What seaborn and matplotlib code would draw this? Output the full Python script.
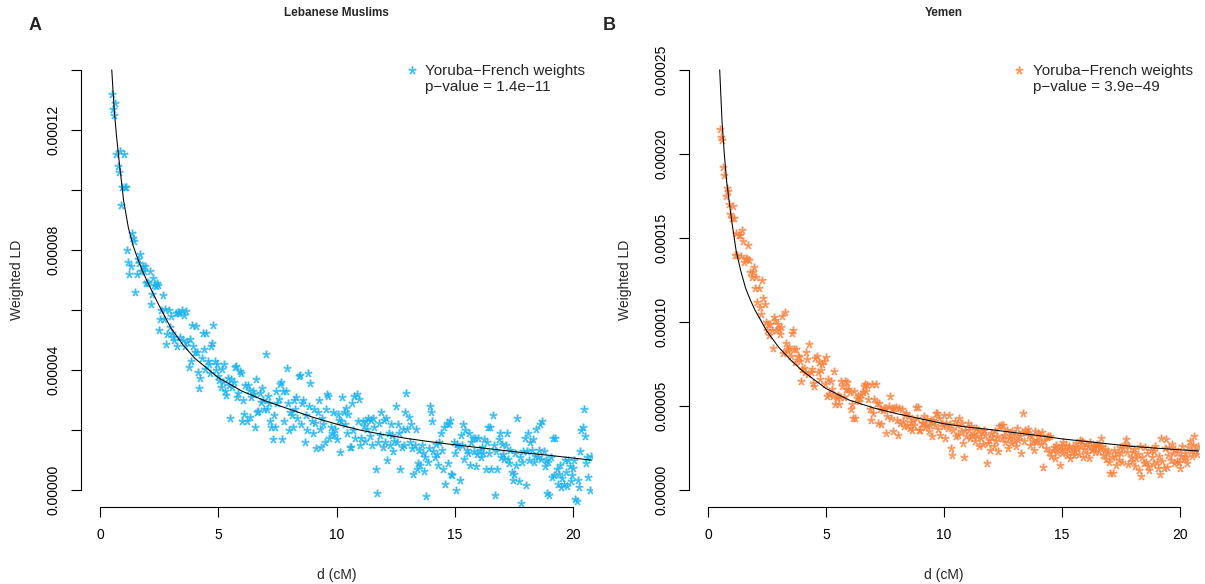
import numpy as np
import pandas as pd
import seaborn as sns
import matplotlib
matplotlib.use("Agg")
import matplotlib.pyplot as plt
from matplotlib.lines import Line2D

# genetic distance bins (cM), same for both panels
d_cm = [
    0.50, 0.55, 0.60, 0.65, 0.70, 0.75, 0.80, 0.85, 0.90, 0.95, 1.00, 1.05, 1.10, 1.15, 1.20, 1.25, 1.30, 1.35, 1.40, 1.45,
    1.50, 1.55, 1.60, 1.65, 1.70, 1.75, 1.80, 1.85, 1.90, 1.95, 2.00, 2.05, 2.10, 2.15, 2.20, 2.25, 2.30, 2.35, 2.40, 2.45,
    2.50, 2.55, 2.60, 2.65, 2.70, 2.75, 2.80, 2.85, 2.90, 2.95, 3.00, 3.05, 3.10, 3.15, 3.20, 3.25, 3.30, 3.35, 3.40, 3.45,
    3.50, 3.55, 3.60, 3.65, 3.70, 3.75, 3.80, 3.85, 3.90, 3.95, 4.00, 4.05, 4.10, 4.15, 4.20, 4.25, 4.30, 4.35, 4.40, 4.45,
    4.50, 4.55, 4.60, 4.65, 4.70, 4.75, 4.80, 4.85, 4.90, 4.95, 5.00, 5.05, 5.10, 5.15, 5.20, 5.25, 5.30, 5.35, 5.40, 5.45,
    5.50, 5.55, 5.60, 5.65, 5.70, 5.75, 5.80, 5.85, 5.90, 5.95, 6.00, 6.05, 6.10, 6.15, 6.20, 6.25, 6.30, 6.35, 6.40, 6.45,
    6.50, 6.55, 6.60, 6.65, 6.70, 6.75, 6.80, 6.85, 6.90, 6.95, 7.00, 7.05, 7.10, 7.15, 7.20, 7.25, 7.30, 7.35, 7.40, 7.45,
    7.50, 7.55, 7.60, 7.65, 7.70, 7.75, 7.80, 7.85, 7.90, 7.95, 8.00, 8.05, 8.10, 8.15, 8.20, 8.25, 8.30, 8.35, 8.40, 8.45,
    8.50, 8.55, 8.60, 8.65, 8.70, 8.75, 8.80, 8.85, 8.90, 8.95, 9.00, 9.05, 9.10, 9.15, 9.20, 9.25, 9.30, 9.35, 9.40, 9.45,
    9.50, 9.55, 9.60, 9.65, 9.70, 9.75, 9.80, 9.85, 9.90, 9.95, 10.00, 10.05, 10.10, 10.15, 10.20, 10.25, 10.30, 10.35, 10.40, 10.45,
    10.50, 10.55, 10.60, 10.65, 10.70, 10.75, 10.80, 10.85, 10.90, 10.95, 11.00, 11.05, 11.10, 11.15, 11.20, 11.25, 11.30, 11.35, 11.40, 11.45,
    11.50, 11.55, 11.60, 11.65, 11.70, 11.75, 11.80, 11.85, 11.90, 11.95, 12.00, 12.05, 12.10, 12.15, 12.20, 12.25, 12.30, 12.35, 12.40, 12.45,
    12.50, 12.55, 12.60, 12.65, 12.70, 12.75, 12.80, 12.85, 12.90, 12.95, 13.00, 13.05, 13.10, 13.15, 13.20, 13.25, 13.30, 13.35, 13.40, 13.45,
    13.50, 13.55, 13.60, 13.65, 13.70, 13.75, 13.80, 13.85, 13.90, 13.95, 14.00, 14.05, 14.10, 14.15, 14.20, 14.25, 14.30, 14.35, 14.40, 14.45,
    14.50, 14.55, 14.60, 14.65, 14.70, 14.75, 14.80, 14.85, 14.90, 14.95, 15.00, 15.05, 15.10, 15.15, 15.20, 15.25, 15.30, 15.35, 15.40, 15.45,
    15.50, 15.55, 15.60, 15.65, 15.70, 15.75, 15.80, 15.85, 15.90, 15.95, 16.00, 16.05, 16.10, 16.15, 16.20, 16.25, 16.30, 16.35, 16.40, 16.45,
    16.50, 16.55, 16.60, 16.65, 16.70, 16.75, 16.80, 16.85, 16.90, 16.95, 17.00, 17.05, 17.10, 17.15, 17.20, 17.25, 17.30, 17.35, 17.40, 17.45,
    17.50, 17.55, 17.60, 17.65, 17.70, 17.75, 17.80, 17.85, 17.90, 17.95, 18.00, 18.05, 18.10, 18.15, 18.20, 18.25, 18.30, 18.35, 18.40, 18.45,
    18.50, 18.55, 18.60, 18.65, 18.70, 18.75, 18.80, 18.85, 18.90, 18.95, 19.00, 19.05, 19.10, 19.15, 19.20, 19.25, 19.30, 19.35, 19.40, 19.45,
    19.50, 19.55, 19.60, 19.65, 19.70, 19.75, 19.80, 19.85, 19.90, 19.95, 20.00, 20.05, 20.10, 20.15, 20.20, 20.25, 20.30, 20.35, 20.40, 20.45,
    20.50, 20.55, 20.60, 20.65, 20.70, 20.75,
]

# weighted LD, units of 1e-5
ld_lebanese = [
    13.2, 12.7, 12.5, 12.9, 11.2, 10.8, 10.6, 11.3, 9.5, 10.1, 11.2, 10.1, 10.1, 8.0, 7.6, 7.2, 7.45, 8.55, 8.4, 8.3,
    6.6, 7.2, 7.7, 7.55, 7.85, 7.3, 7.45, 7.3, 7.45, 6.9, 6.95, 6.9, 7.3, 6.2, 6.55, 7.05, 6.85, 6.8, 6.9, 6.85,
    5.35, 5.7, 6.0, 6.5, 5.7, 6.05, 4.86, 5.2, 6.0, 5.45, 5.8, 5.25, 5.1, 5.0, 5.9, 4.8, 5.95, 5.9, 5.1, 6.0,
    5.0, 5.84, 4.8, 5.98, 4.95, 4.1, 5.05, 4.3, 5.5, 4.8, 4.6, 5.48, 4.6, 3.95, 3.4, 3.75, 4.4, 5.24, 4.7, 4.05,
    5.24, 4.3, 4.2, 3.9, 4.8, 4.9, 5.5, 4.3, 4.0, 4.2, 3.8, 3.67, 3.45, 4.05, 3.6, 4.2, 3.3, 3.17, 3.75, 3.5,
    2.39, 3.7, 3.45, 3.6, 4.1, 4.13, 3.1, 3.25, 3.97, 3.9, 2.3, 3.0, 2.55, 3.5, 2.3, 3.5, 3.35, 2.45, 3.1, 3.3,
    3.2, 2.1, 3.7, 2.6, 2.65, 3.25, 2.95, 3.4, 3.0, 2.7, 4.52, 2.7, 3.15, 2.9, 2.3, 2.1, 1.7, 2.5, 2.1, 3.3,
    2.9, 3.05, 3.55, 3.6, 1.7, 3.3, 2.3, 3.3, 4.08, 2.9, 2.0, 2.6, 2.5, 2.1, 3.0, 2.7, 3.1, 2.4, 3.8, 3.83,
    2.2, 2.9, 3.0, 1.6, 2.5, 2.0, 3.89, 2.8, 3.58, 2.3, 1.9, 2.7, 2.25, 1.4, 2.6, 3.0, 2.05, 1.45, 2.4, 2.2,
    1.6, 2.7, 3.2, 3.15, 1.75, 2.1, 1.9, 2.6, 1.85, 2.05, 1.7, 2.55, 2.35, 1.27, 2.3, 3.1, 2.6, 2.2, 2.75, 1.9,
    2.55, 1.45, 1.45, 2.9, 2.0, 3.15, 1.75, 3.2, 2.3, 3.05, 1.5, 1.75, 2.3, 2.15, 1.65, 2.3, 2.05, 2.4, 1.8, 2.35,
    1.5, 2.4, 2.1, 0.72, -0.08, 1.6, 2.25, 1.85, 2.6, 1.45, 2.35, 1.6, 2.4, 1.0, 1.9, 1.5, 2.2, 1.85, 1.3, 1.65,
    2.8, 1.6, 2.2, 1.9, 0.7, 1.45, 2.05, 1.5, 2.6, 3.22, 2.05, 2.45, 1.6, 2.2, 1.4, 0.55, 1.5, 2.05, 0.7, 0.9,
    1.35, 0.85, 1.5, 1.25, 0.65, 1.1, -0.19, 0.95, 1.4, 2.8, 2.59, 2.3, 1.3, 1.1, 1.55, 1.2, 0.85, 1.6, 1.9, 1.35,
    0.7, 2.1, 0.2, 2.25, 0.9, 2.2, 2.35, 0.55, 0.5, 1.6, 1.25, 0.0, 1.55, 1.45, 0.35, 1.85, 1.5, 2.2, 1.05, 2.0,
    1.35, 1.25, 1.9, 0.85, 1.6, 1.75, 1.3, 1.75, 0.8, 1.2, 1.75, 1.35, 1.1, 1.45, 1.25, 1.7, 0.7, 1.6, 2.1, 1.25,
    2.1, 0.7, 2.52, 1.5, -0.15, 1.3, 0.7, 1.7, 1.9, 1.1, 1.55, 1.2, 1.05, 1.5, 1.9, 1.05, 0.9, 1.35, 0.6, 0.35,
    0.55, 1.25, 0.85, 2.4, 0.3, 1.1, -0.42, 0.95, 1.3, 1.75, 0.17, 1.3, 1.9, 1.0, 1.6, 1.35, 1.7, 0.95, 1.15, 2.05,
    1.1, 1.35, 2.2, 1.05, 2.3, 1.3, 0.8, 1.0, -0.1, 0.95, -0.15, 1.1, 0.45, 1.75, 0.5, 1.75, 0.7, 0.2, 0.55, 0.85,
    0.1, 0.4, 0.2, 1.0, 0.6, 0.15, 1.0, 0.8, 0.3, 0.5, 0.75, 1.0, -0.3, -0.35, 0.35, 0.1, 1.3, 2.0, 2.1, 2.69,
    1.8, 0.9, 1.1, 0.45, 0.0, 1.15,
]

ld_yemen = [
    21.5, 21.0, 20.8, 19.2, 18.75, 17.5, 18.0, 17.8, 17.0, 16.4, 16.2, 16.9, 16.2, 14.0, 15.3, 14.0, 15.2, 15.2, 13.9, 15.5,
    14.8, 13.6, 13.8, 13.75, 14.6, 13.7, 13.0, 12.7, 13.0, 13.3, 12.0, 12.7, 11.2, 12.0, 10.9, 10.5, 12.5, 11.4, 11.07, 10.0,
    9.5, 9.9, 9.2, 9.9, 9.5, 8.43, 10.3, 10.1, 9.5, 9.9, 9.6, 9.3, 9.7, 10.36, 8.15, 10.6, 8.73, 8.4, 8.3, 8.5,
    8.0, 9.33, 9.5, 8.4, 7.6, 8.4, 8.0, 7.9, 7.7, 6.5, 7.2, 7.25, 7.0, 8.2, 7.8, 6.9, 8.67, 7.0, 7.2, 6.4,
    6.2, 7.85, 8.0, 7.0, 7.6, 6.6, 7.15, 7.5, 7.7, 6.3, 7.9, 5.6, 6.6, 5.7, 6.5, 6.0, 5.6, 7.1, 5.1, 5.5,
    5.65, 5.1, 5.55, 6.5, 6.2, 5.55, 6.5, 6.0, 6.45, 6.0, 5.85, 4.8, 5.1, 4.3, 5.9, 4.27, 5.5, 5.6, 5.3, 5.5,
    5.75, 5.85, 6.2, 6.3, 5.9, 6.25, 5.45, 4.8, 4.2, 6.3, 4.6, 5.45, 6.3, 5.2, 4.0, 5.2, 4.8, 3.95, 4.75, 4.9,
    4.9, 3.41, 4.4, 5.0, 5.6, 4.3, 4.8, 3.5, 4.9, 4.95, 4.2, 3.27, 4.9, 4.0, 4.8, 4.1, 3.8, 4.45, 4.6, 3.9,
    4.4, 3.7, 4.05, 3.6, 4.2, 3.85, 4.96, 4.3, 4.97, 3.55, 3.6, 4.0, 4.0, 4.4, 3.75, 3.9, 4.25, 3.5, 3.9, 4.15,
    3.2, 4.2, 3.85, 4.6, 4.62, 3.65, 4.3, 3.3, 4.0, 3.8, 4.45, 3.1, 4.0, 3.7, 4.5, 3.95, 2.5, 2.08, 3.6, 4.1,
    3.2, 3.85, 3.3, 4.3, 3.5, 4.0, 2.8, 1.95, 3.6, 3.25, 4.0, 3.55, 3.1, 3.8, 3.3, 3.35, 2.9, 3.7, 3.2, 3.55,
    2.6, 3.1, 3.45, 2.75, 3.6, 3.3, 1.63, 2.8, 3.0, 2.4, 3.4, 3.15, 2.6, 3.5, 2.9, 3.2, 2.35, 3.8, 3.9, 3.1,
    3.85, 3.3, 2.85, 3.6, 2.5, 3.1, 3.25, 2.8, 3.5, 2.95, 3.3, 2.6, 3.7, 3.0, 3.2, 2.2, 3.45, 4.62, 2.9, 3.6,
    3.45, 3.65, 3.3, 2.7, 3.2, 2.95, 2.4, 3.5, 2.85, 3.0, 3.4, 3.2, 2.75, 3.45, 1.35, 2.9, 2.5, 3.15, 3.25, 2.3,
    3.2, 2.05, 2.4, 2.55, 1.9, 2.7, 2.3, 2.5, 1.5, 2.6, 2.2, 2.85, 2.4, 2.7, 2.1, 2.45, 2.65, 1.9, 2.3, 2.55,
    2.1, 2.35, 2.8, 2.5, 2.15, 3.0, 2.6, 2.95, 1.95, 2.45, 2.75, 2.2, 2.6, 1.9, 2.85, 2.4, 2.5, 2.65, 2.25, 2.7,
    2.75, 2.35, 2.55, 3.1, 2.6, 2.1, 2.45, 1.85, 2.2, 2.35, 1.65, 1.0, 1.95, 1.05, 2.4, 2.05, 1.5, 2.3, 1.8, 2.55,
    2.2, 1.7, 2.5, 2.75, 3.06, 2.25, 1.55, 2.6, 2.0, 1.75, 2.3, 2.45, 1.45, 1.9, 2.15, 1.2, 2.6, 0.85, 1.95, 1.6,
    2.55, 1.7, 2.2, 1.45, 1.2, 2.4, 1.95, 1.55, 2.35, 2.6, 1.65, 1.3, 2.05, 0.95, 3.1, 1.75, 1.3, 2.5, 3.05, 1.35,
    2.1, 2.55, 1.8, 2.75, 2.2, 1.6, 2.45, 1.75, 2.3, 1.7, 1.3, 2.05, 2.6, 1.85, 2.2, 1.95, 1.6, 2.55, 2.9, 2.35,
    2.05, 2.7, 3.2, 2.4, 2.15, 2.6,
]

# fitted decay curves, units of 1e-5
fit_d = [0.5, 0.6, 0.7, 0.8, 0.9, 1.0, 1.2, 1.4, 1.6, 1.8, 2.0, 2.5, 3.0, 3.5, 4.0, 5.0,
         6.0, 7.0, 8.0, 9.0, 10.0, 11.0, 12.0, 13.0, 14.0, 15.0, 16.0, 17.0, 18.0, 19.0, 20.0, 20.8]
fit_lebanese = [14.0, 12.7, 11.8, 11.05, 10.35, 9.65, 8.75, 8.15, 7.7, 7.3, 6.95, 6.15, 5.4, 4.85, 4.4, 3.75,
                3.3, 2.97, 2.7, 2.43, 2.2, 2.0, 1.85, 1.72, 1.61, 1.51, 1.42, 1.33, 1.24, 1.16, 1.07, 1.0]
fit_yemen = [25.0, 21.9, 19.9, 18.3, 17.2, 16.1, 14.2, 13.0, 12.0, 11.3, 10.7, 9.45, 8.5, 7.75, 7.1, 6.05,
             5.35, 4.9, 4.55, 4.25, 3.95, 3.75, 3.6, 3.42, 3.25, 3.05, 2.9, 2.75, 2.6, 2.5, 2.4, 2.33]

sns.set_style("white")
plt.rcParams["font.family"] = ["Liberation Sans", "DejaVu Sans"]
plt.rcParams["mathtext.fontset"] = "custom"
plt.rcParams["mathtext.rm"] = "Liberation Sans"
STAR = r"$\mathrm{*}$"

W, H = 1205, 584
fig = plt.figure(figsize=(W / 100, H / 100), dpi=100)


def draw_panel(left_px, right_px, ld, fit, color, ytop, ystep, label_every,
               title, letter, letter_x, ylabel_x, marker_x, pval):
    top_px, bottom_px = 53, 507
    ax = fig.add_axes([left_px / W, 1 - bottom_px / H,
                       (right_px - left_px) / W, (bottom_px - top_px) / H])
    pts = pd.DataFrame({"d": d_cm, "ld": np.array(ld) * 1e-5})
    curve = pd.DataFrame({"d": fit_d, "ld": np.array(fit) * 1e-5})

    sns.scatterplot(data=pts, x="d", y="ld", ax=ax, marker=STAR, color=color,
                    s=30, linewidth=0.3, edgecolor=color, alpha=0.85, legend=False)
    sns.lineplot(data=curve, x="d", y="ld", ax=ax, color="black", linewidth=0.75,
                 estimator=None, sort=False, legend=False)

    pad = 0.04 * ytop
    ax.set_xlim(-0.8, 20.8)
    ax.set_ylim(-pad, ytop + pad)

    ax.set_xticks([0, 5, 10, 15, 20])
    yt = np.arange(0, ytop + ystep / 2, ystep)
    ax.set_yticks(yt)
    ax.set_yticklabels([f"{v:.5f}" if i % label_every == 0 else ""
                        for i, v in enumerate(yt)])
    for lab in ax.get_yticklabels():
        lab.set_rotation(90)
        lab.set_va("center")

    ax.tick_params(bottom=True, left=True, direction="out", length=7, width=0.8,
                   color="black", labelsize=10, labelcolor="black")
    ax.tick_params(axis="y", pad=7.5)
    ax.tick_params(axis="x", pad=8)

    sns.despine(ax=ax)
    ax.spines["left"].set_bounds(0, ytop)
    ax.spines["bottom"].set_bounds(0, 20)
    for s in ("left", "bottom"):
        ax.spines[s].set_linewidth(0.8)
        ax.spines[s].set_color("black")

    ax.set_xlabel("d (cM)", fontsize=10, va="top")
    ax.set_ylabel("Weighted LD", fontsize=10)
    ax.xaxis.set_label_coords(0.5, (507 - 568) / 454)
    ax.yaxis.set_label_coords((ylabel_x - left_px) / (right_px - left_px), 0.5)

    ax.set_title(title, fontsize=8.5, fontweight="bold", y=(507 - 16) / 454, pad=0)
    fig.text(letter_x / W, 1 - 25.5 / H, letter, fontsize=13, fontweight="bold",
             ha="center", va="center")

    handles = [Line2D([], [], marker=STAR, color=color, linestyle="none",
                      markersize=5.5, markeredgewidth=0.3, alpha=0.85),
               Line2D([], [], linestyle="none")]
    labels = ["Yoruba\u2212French weights", f"p\u2212value = {pval}"]
    leg_left = (marker_x - 7.6 - left_px) / (right_px - left_px)
    ax.legend(handles, labels, loc="upper left", bbox_to_anchor=(leg_left, (507 - 64) / 454),
              frameon=False, fontsize=11, handlelength=1.0, handletextpad=0.4,
              borderpad=0, borderaxespad=0, labelspacing=0.1)
    return ax


draw_panel(81, 592, ld_lebanese, fit_lebanese, "#1CB3EE", 0.00014, 0.00002, 2,
           "Lebanese Muslims", "A", 35.5, 24, 411.7, "1.4e\u221211")
draw_panel(689, 1199, ld_yemen, fit_yemen, "#F9823F", 0.00025, 0.00005, 1,
           "Yemen", "B", 609, 632, 1019.3, "3.9e\u221249")

fig.savefig("out.png", dpi=100)
